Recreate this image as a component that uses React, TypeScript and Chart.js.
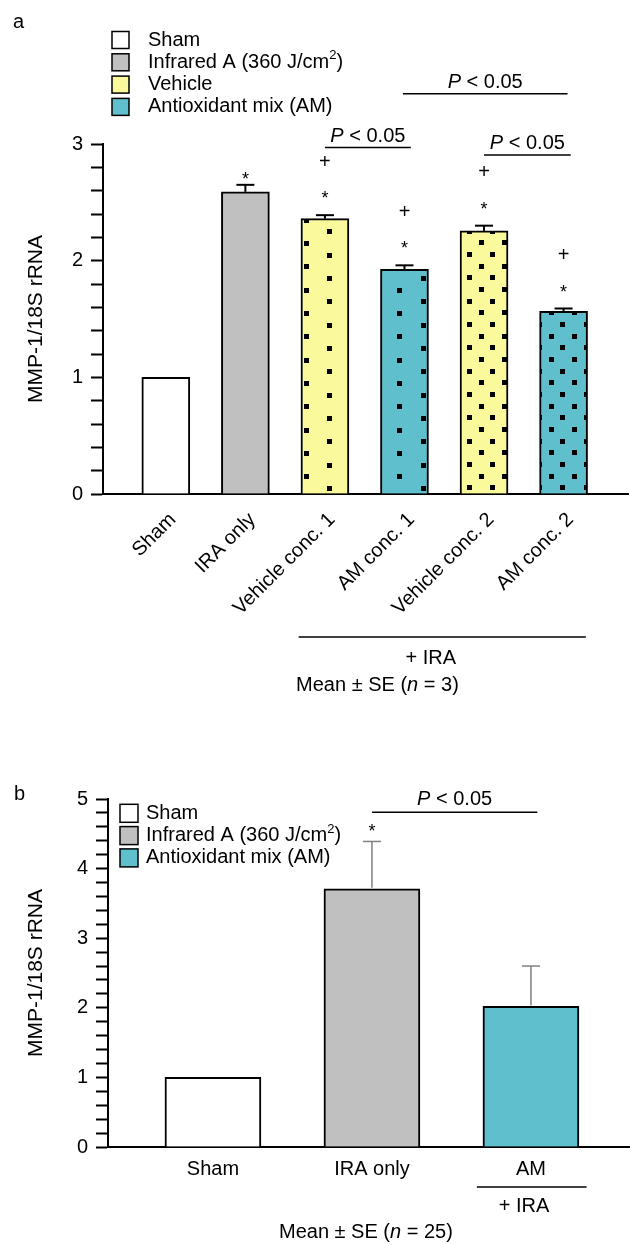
import React, { useEffect, useRef } from 'react';
import { Chart, registerables } from 'chart.js';

Chart.register(...registerables);

const FONT = '"Liberation Sans", Arial, Helvetica, sans-serif';

// ---------- Panel a data ----------
const aCategories = ['Sham', 'IRA only', 'Vehicle conc. 1', 'AM conc. 1', 'Vehicle conc. 2', 'AM conc. 2'];
const aMeans = [1.0, 2.59, 2.36, 1.925, 2.255, 1.565];
const aSE = [0, 0.06, 0.03, 0.035, 0.045, 0.025];
const aStar = [false, true, true, true, true, true];
const aPlus = [false, false, true, true, true, true];
const aMajorTicks = [0, 1, 2, 3];
const aLegend = ['Sham', 'Infrared A (360 J/cm²)', 'Vehicle', 'Antioxidant mix (AM)'];

// ---------- Panel b data ----------
const bCategories = ['Sham', 'IRA only', 'AM'];
const bMeans = [1.0, 3.71, 2.02];
const bSE = [0, 0.68, 0.58];
const bStar = [false, true, false];
const bMajorTicks = [0, 1, 2, 3, 4, 5];
const bLegend = ['Sham', 'Infrared A (360 J/cm²)', 'Antioxidant mix (AM)'];

const WHITE = '#ffffff';
const GRAY = '#c0c0c0';
const YELLOW = '#fafa9c';
const TEAL = '#60bfcc';

type Seg = { t: string; it?: boolean; sup?: boolean };

function font(size: number, italic?: boolean) {
  return `${italic ? 'italic ' : ''}${size}px ${FONT}`;
}

function drawRich(ctx: CanvasRenderingContext2D, segs: Seg[], x: number, cy: number, size: number, align: 'center' | 'left') {
  const widths = segs.map((s) => {
    ctx.font = font(s.sup ? size * 0.65 : size, s.it);
    return ctx.measureText(s.t).width;
  });
  const total = widths.reduce((a, b) => a + b, 0);
  let cx = align === 'center' ? x - total / 2 : x;
  ctx.textAlign = 'left';
  ctx.textBaseline = 'middle';
  ctx.fillStyle = '#000';
  segs.forEach((s, i) => {
    ctx.font = font(s.sup ? size * 0.65 : size, s.it);
    ctx.fillText(s.t, cx, s.sup ? cy - size * 0.33 : cy);
    cx += widths[i];
  });
}

function labelSegs(label: string): Seg[] {
  const idx = label.indexOf('²');
  if (idx < 0) return [{ t: label }];
  return [{ t: label.slice(0, idx) }, { t: '2', sup: true }, { t: label.slice(idx + 1) }];
}

function pSegs(): Seg[] {
  return [{ t: 'P', it: true }, { t: ' < 0.05' }];
}

function meanSegs(n: number): Seg[] {
  return [{ t: 'Mean ± SE (' }, { t: 'n', it: true }, { t: ` = ${n})` }];
}

function line(ctx: CanvasRenderingContext2D, x1: number, y1: number, x2: number, y2: number) {
  ctx.beginPath();
  ctx.moveTo(x1, y1);
  ctx.lineTo(x2, y2);
  ctx.stroke();
}

function drawStar(ctx: CanvasRenderingContext2D, x: number, cy: number) {
  ctx.font = font(18);
  ctx.textAlign = 'center';
  ctx.textBaseline = 'alphabetic';
  ctx.fillStyle = '#000';
  ctx.fillText('*', x, cy + 10);
}

function drawPlus(ctx: CanvasRenderingContext2D, x: number, cy: number) {
  ctx.font = font(20);
  ctx.textAlign = 'center';
  ctx.textBaseline = 'middle';
  ctx.fillStyle = '#000';
  ctx.fillText('+', x, cy);
}

function drawLegend(ctx: CanvasRenderingContext2D, labels: string[], colors: string[], boxX: number, box: number, y0: number, dy: number, textX: number) {
  labels.forEach((lab, i) => {
    const cy = y0 + i * dy;
    ctx.fillStyle = colors[i];
    ctx.fillRect(boxX, cy - box / 2, box, box);
    ctx.strokeStyle = '#000';
    ctx.lineWidth = 1.5;
    ctx.strokeRect(boxX, cy - box / 2, box, box);
    drawRich(ctx, labelSegs(lab), textX, cy, 20, 'left');
  });
}

function makePattern(bg: string, period: number, rowH: number, x0: number, y0: number, dot: number) {
  const W = Math.round(period * 3);
  const H = Math.round(rowH * 6);
  const c = document.createElement('canvas');
  c.width = W;
  c.height = H;
  const g = c.getContext('2d')!;
  g.fillStyle = bg;
  g.fillRect(0, 0, W, H);
  g.fillStyle = '#000';
  const pw = W / 3;
  const rh = H / 6;
  for (let r = 0; r < 6; r++) {
    for (let k = 0; k < 3; k++) {
      const cx = x0 - (r % 2 === 1 ? pw / 2 : 0) + k * pw;
      const cy = y0 + r * rh;
      for (const dx of [-W, 0, W]) {
        for (const dy of [-H, 0, H]) {
          g.fillRect(Math.round(cx - dot / 2 + dx), Math.round(cy - dot / 2 + dy), dot, dot);
        }
      }
    }
  }
  return g.createPattern(c, 'repeat')!;
}

function yAxis(max: number, majors: number[], width: number) {
  return {
    min: 0,
    max,
    afterFit: (s: any) => {
      s.width = width;
    },
    ticks: {
      stepSize: 0.2,
      autoSkip: false,
      padding: 8,
      color: '#000',
      font: { family: FONT, size: 20 },
      callback: (v: number) => {
        const r = Math.round(v);
        return Math.abs(v - r) < 1e-6 && majors.includes(r) ? String(r) : '';
      },
    },
    grid: {
      display: true,
      drawOnChartArea: false,
      drawTicks: true,
      tickLength: 12,
      tickColor: '#000',
      tickWidth: 2,
      color: '#000',
    },
    border: { display: true, color: '#000', width: 2 },
    title: {
      display: true,
      text: 'MMP-1/18S rRNA',
      color: '#000',
      font: { family: FONT, size: 21 },
      padding: { top: 24, bottom: 0 },
    },
  };
}

export default function App() {
  const refA = useRef<HTMLCanvasElement>(null);
  const refB = useRef<HTMLCanvasElement>(null);

  useEffect(() => {
    const yellowSparse = makePattern(YELLOW, 46.67, 11.67, 26.6, 10, 5);
    const tealSparse = makePattern(TEAL, 46.67, 11.67, 26.6, 10, 5);
    const yellowDense = makePattern(YELLOW, 23.33, 11.67, 14.4, 9.4, 5);
    const tealDense = makePattern(TEAL, 23.33, 11.67, 14.4, 9.4, 5);
    const aFills = [WHITE, GRAY, yellowSparse, tealSparse, yellowDense, tealDense];
    const bFills = [WHITE, GRAY, TEAL];

    const annotA = {
      id: 'annotA',
      afterDatasetsDraw(chart: any) {
        const ctx: CanvasRenderingContext2D = chart.ctx;
        const xs = chart.scales.x;
        const ys = chart.scales.y;
        ctx.save();
        ctx.strokeStyle = '#000';
        ctx.lineWidth = 2;
        aMeans.forEach((m, i) => {
          const x = xs.getPixelForValue(i);
          const yTop = ys.getPixelForValue(m);
          const yCap = ys.getPixelForValue(m + aSE[i]);
          if (aSE[i] > 0) {
            line(ctx, x, yTop, x, yCap);
            line(ctx, x - 9, yCap, x + 9, yCap);
          }
          if (aStar[i]) drawStar(ctx, x, yCap - (aPlus[i] ? 21 : 10));
          if (aPlus[i]) drawPlus(ctx, x, yCap - 53);
        });
        ctx.restore();
      },
      afterDraw(chart: any) {
        const ctx: CanvasRenderingContext2D = chart.ctx;
        const xs = chart.scales.x;
        const ys = chart.scales.y;
        const bottom = chart.chartArea.bottom;
        ctx.save();
        ctx.font = font(20);
        ctx.fillStyle = '#000';
        ctx.textAlign = 'left';
        ctx.textBaseline = 'alphabetic';
        ctx.fillText('a', 13, 28);
        drawLegend(ctx, aLegend, [WHITE, GRAY, YELLOW, TEAL], 112, 17, 40, 22.3, 148);
        const brackets = [
          { x1: 2.0, x2: 3.08, y: 2.97 },
          { x1: 4.0, x2: 5.09, y: 2.905 },
          { x1: 2.98, x2: 5.05, y: 3.43 },
        ];
        ctx.strokeStyle = '#000';
        ctx.lineWidth = 1.5;
        brackets.forEach((b) => {
          const px1 = xs.getPixelForValue(b.x1);
          const px2 = xs.getPixelForValue(b.x2);
          const py = ys.getPixelForValue(b.y);
          line(ctx, px1, py, px2, py);
          drawRich(ctx, pSegs(), (px1 + px2) / 2, py - 11.5, 20, 'center');
        });
        ctx.lineWidth = 1.5;
        line(ctx, xs.getPixelForValue(1.67), bottom + 143, xs.getPixelForValue(5.28), bottom + 143);
        drawRich(ctx, [{ t: '+ IRA' }], xs.getPixelForValue(3.33), bottom + 164, 20, 'center');
        drawRich(ctx, meanSegs(3), xs.getPixelForValue(2.66), bottom + 191, 20, 'center');
        ctx.restore();
      },
    };

    const annotB = {
      id: 'annotB',
      afterDatasetsDraw(chart: any) {
        const ctx: CanvasRenderingContext2D = chart.ctx;
        const xs = chart.scales.x;
        const ys = chart.scales.y;
        ctx.save();
        ctx.strokeStyle = '#808080';
        ctx.lineWidth = 1.5;
        bMeans.forEach((m, i) => {
          const x = xs.getPixelForValue(i);
          const yTop = ys.getPixelForValue(m);
          const yCap = ys.getPixelForValue(m + bSE[i]);
          if (bSE[i] > 0) {
            line(ctx, x, yTop - 1, x, yCap);
            line(ctx, x - 9, yCap, x + 9, yCap);
          }
          if (bStar[i]) drawStar(ctx, x, yCap - 14);
        });
        ctx.restore();
      },
      afterDraw(chart: any) {
        const ctx: CanvasRenderingContext2D = chart.ctx;
        const xs = chart.scales.x;
        const ys = chart.scales.y;
        const bottom = chart.chartArea.bottom;
        ctx.save();
        ctx.font = font(20);
        ctx.fillStyle = '#000';
        ctx.textAlign = 'left';
        ctx.textBaseline = 'alphabetic';
        ctx.fillText('b', 14, 80);
        drawLegend(ctx, bLegend, [WHITE, GRAY, TEAL], 120, 18, 93.3, 22.3, 146);
        ctx.strokeStyle = '#000';
        ctx.lineWidth = 1.5;
        const px1 = xs.getPixelForValue(1.0);
        const px2 = xs.getPixelForValue(2.04);
        const py = ys.getPixelForValue(4.81);
        line(ctx, px1, py, px2, py);
        drawRich(ctx, pSegs(), (px1 + px2) / 2, py - 13, 20, 'center');
        line(ctx, xs.getPixelForValue(1.66), bottom + 40, xs.getPixelForValue(2.35), bottom + 40);
        drawRich(ctx, [{ t: '+ IRA' }], xs.getPixelForValue(1.956), bottom + 59, 20, 'center');
        drawRich(ctx, meanSegs(25), xs.getPixelForValue(0.962), bottom + 85, 20, 'center');
        ctx.restore();
      },
    };

    const chartA = new Chart(refA.current!, {
      type: 'bar',
      data: {
        datasets: [
          {
            data: aMeans.map((y, i) => ({ x: i, y })),
            backgroundColor: aFills as any,
            borderColor: '#000',
            borderWidth: 2,
            barThickness: 48,
          },
        ],
      },
      options: {
        animation: false,
        responsive: false,
        devicePixelRatio: 1,
        layout: { padding: { top: 144, right: 2, bottom: 76, left: 0 } },
        plugins: { legend: { display: false }, tooltip: { enabled: false } },
        scales: {
          x: {
            type: 'linear',
            offset: false,
            min: -0.79,
            max: 5.81,
            afterBuildTicks: (s: any) => {
              s.ticks = aCategories.map((_, i) => ({ value: i }));
            },
            afterFit: (s: any) => {
              s.height = 150;
            },
            ticks: {
              autoSkip: false,
              minRotation: 45,
              maxRotation: 45,
              padding: 14,
              labelOffset: 7,
              color: '#000',
              font: { family: FONT, size: 20 },
              callback: (v: number) => aCategories[v] ?? '',
            },
            grid: { display: false, drawTicks: false, offset: false },
            border: { display: true, color: '#000', width: 2 },
          },
          y: yAxis(3, aMajorTicks, 103) as any,
        },
      } as any,
      plugins: [annotA],
    });

    const chartB = new Chart(refB.current!, {
      type: 'bar',
      data: {
        datasets: [
          {
            data: bMeans.map((y, i) => ({ x: i, y })),
            backgroundColor: bFills,
            borderColor: '#000',
            borderWidth: 2,
            barThickness: 96,
          },
        ],
      },
      options: {
        animation: false,
        responsive: false,
        devicePixelRatio: 1,
        layout: { padding: { top: 79, right: 0, bottom: 58, left: 0 } },
        plugins: { legend: { display: false }, tooltip: { enabled: false } },
        scales: {
          x: {
            type: 'linear',
            offset: false,
            min: -0.66,
            max: 2.623,
            afterBuildTicks: (s: any) => {
              s.ticks = bCategories.map((_, i) => ({ value: i }));
            },
            afterFit: (s: any) => {
              s.height = 40;
            },
            ticks: {
              autoSkip: false,
              minRotation: 0,
              maxRotation: 0,
              padding: 10,
              color: '#000',
              font: { family: FONT, size: 20 },
              callback: (v: number) => bCategories[v] ?? '',
            },
            grid: { display: false, drawTicks: false, offset: false },
            border: { display: true, color: '#000', width: 2 },
          },
          y: yAxis(5, bMajorTicks, 108) as any,
        },
      } as any,
      plugins: [annotB],
    });

    return () => {
      chartA.destroy();
      chartB.destroy();
    };
  }, []);

  return (
    <div style={{ position: 'absolute', left: 0, top: 0, width: 630, height: 1245, background: '#fff' }}>
      <canvas ref={refA} width={630} height={720} style={{ position: 'absolute', left: 0, top: 0, width: 630, height: 720 }} />
      <canvas ref={refB} width={630} height={525} style={{ position: 'absolute', left: 0, top: 720, width: 630, height: 525 }} />
    </div>
  );
}
